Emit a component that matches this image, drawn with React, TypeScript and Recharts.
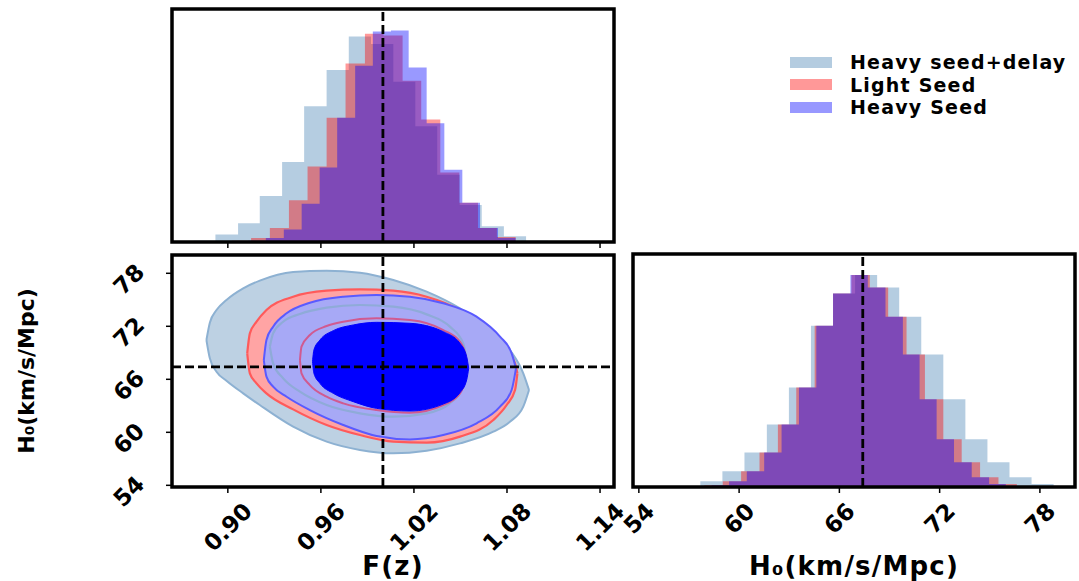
import React from 'react';
import { ComposedChart, Area, XAxis, YAxis, ReferenceLine, ReferenceArea } from 'recharts';

// --- F(z) histograms: bin edges (n+1) and heights (n) per model ---
const fzEdgesDelay = [0.878, 0.892, 0.9066, 0.9206, 0.935, 0.9492, 0.9637, 0.978, 0.9923, 1.0067, 1.0209, 1.035, 1.0495, 1.0637, 1.078, 1.0923, 1.1065];
const fzCountsDelay = [4, 22, 56, 137, 238, 404, 512, 612, 590, 477, 345, 200, 110, 47, 17, 4];
const fzEdgesLight = [0.9028, 0.915, 0.9271, 0.9394, 0.9514, 0.9637, 0.9759, 0.9884, 1.0004, 1.0127, 1.0247, 1.037, 1.0493, 1.0613, 1.0735, 1.0856, 1.0979];
const fzCountsLight = [4, 12, 42, 124, 225, 370, 532, 620, 615, 480, 365, 207, 117, 42, 15, 3];
const fzEdgesHeavy = [0.9131, 0.9245, 0.9361, 0.9476, 0.9592, 0.9705, 0.9821, 0.9935, 1.0052, 1.0166, 1.0282, 1.0396, 1.0512, 1.0626, 1.0742, 1.0856, 1.0972];
const fzCountsHeavy = [4, 12, 37, 114, 222, 370, 525, 627, 630, 520, 354, 215, 117, 42, 12, 2];

// --- H0 histograms ---
const h0EdgesDelay = [56.36, 57.68, 59.0, 60.32, 61.66, 62.98, 64.3, 65.62, 66.94, 68.26, 69.58, 70.9, 72.22, 73.54, 74.86, 76.18, 77.5, 78.82, 80.14];
const h0CountsDelay = [3, 17, 47, 103, 187, 298, 483, 580, 635, 598, 510, 397, 263, 143, 74, 29, 9, 3];
const h0EdgesLight = [56.82, 57.92, 59.02, 60.12, 61.22, 62.32, 63.42, 64.52, 65.62, 66.72, 67.82, 68.92, 70.02, 71.12, 72.22, 73.32, 74.42, 75.52, 76.62, 77.72];
const h0CountsLight = [3, 5, 17, 47, 103, 187, 298, 483, 580, 635, 598, 510, 397, 263, 143, 74, 29, 9, 3];
const h0EdgesHeavy = [57.32, 58.36, 59.4, 60.46, 61.5, 62.54, 63.58, 64.62, 65.62, 66.66, 67.7, 68.76, 69.8, 70.8, 71.82, 72.86, 73.92, 74.96, 75.96, 77.0];
const h0CountsHeavy = [2, 5, 17, 47, 103, 187, 298, 483, 580, 635, 598, 510, 397, 263, 143, 74, 29, 9, 3];

// --- 2D contours: [F(z), H0 low, H0 high] ---
const delayOuter = [
  [0.8862, 70.45, 70.45], [0.8884, 68.37, 72.41], [0.8927, 66.86, 73.84], [0.8991, 65.84, 74.98],
  [0.9099, 64.41, 76.3], [0.9206, 63.09, 77.17], [0.9421, 60.64, 78.15], [0.9637, 58.94, 78.3],
  [0.9852, 58.0, 78.07], [1.0067, 57.62, 77.24], [1.0282, 57.92, 75.92], [1.0497, 58.75, 74.03],
  [1.0712, 60.07, 71.39], [1.0819, 61.2, 69.32], [1.0905, 62.9, 66.68], [1.0942, 64.79, 64.79],
];
const delayInner = [
  [0.9271, 69.69, 69.69], [0.9292, 67.81, 71.2], [0.9357, 66.11, 72.52], [0.9465, 64.6, 73.39],
  [0.9637, 63.09, 74.11], [0.9852, 62.15, 74.41], [1.0067, 61.77, 74.22], [1.0282, 62.15, 73.35],
  [1.0432, 63.28, 71.96], [1.0518, 65.17, 70.07], [1.054, 68.18, 68.18],
];
const lightOuter = [
  [0.9125, 68.94, 68.94], [0.9142, 66.68, 71.2], [0.9185, 65.54, 72.52], [0.9249, 64.41, 73.84],
  [0.9421, 62.6, 75.35], [0.9637, 60.83, 76.03], [0.9852, 59.69, 76.18], [1.0067, 58.94, 76.03],
  [1.0282, 58.83, 75.35], [1.0497, 59.51, 73.84], [1.0712, 61.39, 71.2], [1.0798, 63.09, 69.32],
  [1.0852, 64.79, 67.81], [1.0867, 66.68, 66.68],
];
const lightInner = [
  [0.9465, 68.18, 68.18], [0.9475, 66.68, 69.69], [0.9529, 65.35, 71.01], [0.9637, 64.03, 72.03],
  [0.9744, 63.28, 72.52], [0.9959, 62.52, 72.9], [1.0174, 62.22, 72.71], [1.0389, 63.09, 71.58],
  [1.0497, 64.41, 70.26], [1.0535, 66.3, 68.56], [1.0544, 67.62, 67.62],
];
const heavyOuter = [
  [0.9232, 68.18, 68.18], [0.9249, 66.3, 70.45], [0.9292, 65.17, 71.96], [0.9379, 64.03, 73.47],
  [0.9529, 62.52, 74.67], [0.9744, 60.83, 75.35], [0.9959, 59.58, 75.54], [1.0174, 59.2, 75.35],
  [1.0389, 59.69, 74.6], [1.0604, 61.02, 73.09], [1.0755, 62.9, 70.83], [1.083, 64.79, 68.94],
  [1.0858, 67.24, 67.24],
];
const heavyInner = [
  [0.9546, 68.0, 68.0], [0.9555, 66.68, 69.32], [0.9594, 65.54, 70.45], [0.968, 64.41, 71.51],
  [0.9809, 63.47, 72.15], [0.9959, 62.71, 72.45], [1.0174, 62.41, 72.34], [1.0389, 63.2, 71.39],
  [1.0497, 64.49, 70.07], [1.054, 65.92, 68.56], [1.0553, 67.24, 67.24],
];

const truthF = 1.0;
const truthH0 = 67.4;
const fzTicks = [0.9, 0.96, 1.02, 1.08, 1.14];
const h0Ticks = [54, 60, 66, 72, 78];
const legendNames = ['Heavy seed+delay', 'Light Seed', 'Heavy Seed'];

const fzDomain = [0.864, 1.149];
const h0DomainY = [53.81, 80.07];
const h0DomainX = [53.65, 80.1];

const toSteps = (edges: number[], counts: number[]) =>
  edges.map((x, i) => ({ x, n: i < counts.length ? counts[i] : 0 }));
const toBand = (rows: number[][]) => rows.map(([x, lo, hi]) => ({ x, r: [lo, hi] }));

const FS = 23;
const font = 'DejaVu Sans, Verdana, sans-serif';
const halfExtent = (s: string) => {
  let w = 0;
  for (const ch of s) w += ch === '.' ? 0.38 : 0.696;
  return (w + 0.73) * FS * 0.3536;
};

const XTick = (p: any) => {
  const label = Number(p.payload.value).toFixed(p.digits);
  const h = halfExtent(label);
  const cx = p.x;
  const cy = p.y + 6 + h;
  return (
    <text x={cx} y={cy} transform={`rotate(-45 ${cx} ${cy})`} textAnchor="middle" dominantBaseline="central"
      fontFamily={font} fontWeight={700} fontSize={FS} fill="#000">{label}</text>
  );
};

const YTick = (p: any) => {
  const label = String(p.payload.value);
  const h = halfExtent(label);
  const cx = p.x - 18 - h;
  const cy = p.y + 6;
  return (
    <text x={cx} y={cy} transform={`rotate(-45 ${cx} ${cy})`} textAnchor="middle" dominantBaseline="central"
      fontFamily={font} fontWeight={700} fontSize={FS} fill="#000">{label}</text>
  );
};

const Empty = () => <g />;

const titleStyle = { fontFamily: font, fontWeight: 700, fontSize: 26, fill: '#000', letterSpacing: 1.2 };
const dash = { stroke: '#000', strokeWidth: 2.8, strokeDasharray: '9 4' };
const frame = { fill: 'none', stroke: '#000', strokeWidth: 3.5, fillOpacity: 0 };
const tickLine = { stroke: '#000', strokeWidth: 1.5 };

const histColors = ['#4682b4', '#ff0000', '#0000ff'];

export default function App() {
  const fzHists = [toSteps(fzEdgesDelay, fzCountsDelay), toSteps(fzEdgesLight, fzCountsLight), toSteps(fzEdgesHeavy, fzCountsHeavy)];
  const h0Hists = [toSteps(h0EdgesDelay, h0CountsDelay), toSteps(h0EdgesLight, h0CountsLight), toSteps(h0EdgesHeavy, h0CountsHeavy)];

  return (
    <div style={{ position: 'absolute', left: 0, top: 0, width: 1079, height: 581, background: '#fff', overflow: 'hidden' }}>
      {/* F(z) marginal */}
      <div style={{ position: 'absolute', left: 0, top: 0 }}>
        <ComposedChart width={620} height={262} margin={{ top: 9, right: 6, left: 172, bottom: 0 }}>
          <XAxis type="number" dataKey="x" domain={fzDomain} allowDataOverflow ticks={fzTicks} interval={0}
            tick={Empty} tickSize={6} height={20} axisLine={false} tickLine={tickLine} />
          <YAxis type="number" hide domain={[0, 694]} allowDataOverflow />
          {fzHists.map((d, i) => (
            <Area key={i} data={d} dataKey="n" type="stepAfter" fill={histColors[i]} fillOpacity={0.4}
              stroke="none" isAnimationActive={false} />
          ))}
          <ReferenceLine x={truthF} {...dash} />
          <ReferenceArea x1={fzDomain[0]} x2={fzDomain[1]} y1={0} y2={694} {...frame} />
        </ComposedChart>
      </div>

      {/* 2D contours */}
      <div style={{ position: 'absolute', left: 0, top: 240 }}>
        <ComposedChart width={645} height={341} margin={{ top: 15, right: 31, left: 112, bottom: 0 }}>
          <XAxis type="number" dataKey="x" domain={fzDomain} allowDataOverflow ticks={fzTicks} interval={0}
            tick={(p: any) => <XTick {...p} digits={2} />} tickSize={6} height={94} axisLine={false} tickLine={tickLine}
            label={{ value: 'F(z)', position: 'insideBottom', offset: 6, style: titleStyle }} />
          <YAxis type="number" domain={h0DomainY} allowDataOverflow ticks={h0Ticks} interval={0} width={60}
            tick={(p: any) => <YTick {...p} />} tickSize={6} axisLine={false} tickLine={tickLine}
            label={{ value: 'H₀(km/s/Mpc)', angle: -90, position: 'insideLeft', offset: -86,
              style: { fontFamily: font, fontWeight: 700, fontSize: 22, fill: '#000', textAnchor: 'middle' } }} />
          <Area data={toBand(delayOuter)} dataKey="r" type="monotone" fill="#bdd1e3" fillOpacity={1}
            stroke="#8db1d2" strokeWidth={2} isAnimationActive={false} />
          <Area data={toBand(lightOuter)} dataKey="r" type="monotone" fill="#ffa4a4" fillOpacity={1}
            stroke="#ff5a5a" strokeWidth={2.2} isAnimationActive={false} />
          <Area data={toBand(heavyOuter)} dataKey="r" type="monotone" fill="#a7a9f6" fillOpacity={1}
            stroke="#5a5aff" strokeWidth={2} isAnimationActive={false} />
          <Area data={toBand(delayInner)} dataKey="r" type="monotone" fill="none" fillOpacity={0}
            stroke="#8fabd8" strokeWidth={2.2} isAnimationActive={false} />
          <Area data={toBand(lightInner)} dataKey="r" type="monotone" fill="none" fillOpacity={0}
            stroke="#d05a90" strokeWidth={2} isAnimationActive={false} />
          <Area data={toBand(heavyInner)} dataKey="r" type="monotone" fill="#0000ff" fillOpacity={1}
            stroke="#0000ff" strokeWidth={1} isAnimationActive={false} />
          <ReferenceLine x={truthF} {...dash} />
          <ReferenceLine y={truthH0} {...dash} />
          <ReferenceArea x1={fzDomain[0]} x2={fzDomain[1]} y1={h0DomainY[0]} y2={h0DomainY[1]} {...frame} />
        </ComposedChart>
      </div>

      {/* H0 marginal */}
      <div style={{ position: 'absolute', left: 600, top: 240 }}>
        <ComposedChart width={479} height={341} margin={{ top: 14, right: 4, left: 33, bottom: 0 }}>
          <XAxis type="number" dataKey="x" domain={h0DomainX} allowDataOverflow ticks={h0Ticks} interval={0}
            tick={(p: any) => <XTick {...p} digits={0} />} tickSize={6} height={94} axisLine={false} tickLine={tickLine}
            label={{ value: 'H₀(km/s/Mpc)', position: 'insideBottom', offset: 6, style: titleStyle }} />
          <YAxis type="number" hide domain={[0, 698]} allowDataOverflow />
          {h0Hists.map((d, i) => (
            <Area key={i} data={d} dataKey="n" type="stepAfter" fill={histColors[i]} fillOpacity={0.4}
              stroke="none" isAnimationActive={false} />
          ))}
          <ReferenceLine x={truthH0} {...dash} />
          <ReferenceArea x1={h0DomainX[0]} x2={h0DomainX[1]} y1={0} y2={698} {...frame} />
        </ComposedChart>
      </div>

      {/* legend */}
      <div style={{ position: 'absolute', left: 790, top: 51, fontFamily: font, fontWeight: 700, fontSize: 19, letterSpacing: 1.2, color: '#000' }}>
        {legendNames.map((name, i) => (
          <div key={name} style={{ display: 'flex', alignItems: 'center', height: 22.5 }}>
            <div style={{ width: 40, height: 9, background: histColors[i], opacity: 0.4, border: `1.5px solid ${histColors[i]}`, marginRight: 18 }} />
            <span style={{ lineHeight: '22px', whiteSpace: 'nowrap' }}>{name}</span>
          </div>
        ))}
      </div>
    </div>
  );
}
